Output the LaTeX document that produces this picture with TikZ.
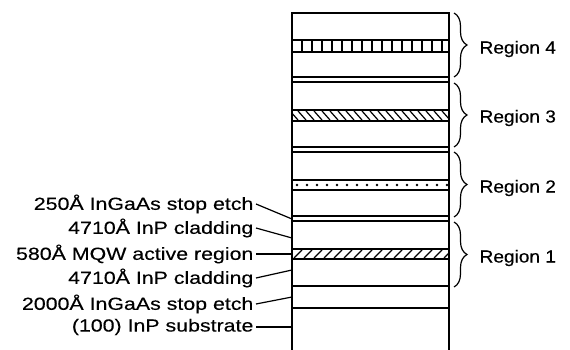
\documentclass[tikz,border=0pt]{standalone}
\usepackage{fontspec}
\setmainfont{Liberation Sans}
\newfontfamily\layerfont{Liberation Sans}[FakeStretch=1.22, FakeBold=0.3]
\newfontfamily\regionfont{Liberation Sans}[FakeStretch=1.09, FakeBold=0.3]
\usetikzlibrary{decorations.pathreplacing}

\begin{document}
\begin{tikzpicture}[x=1pt,y=-1pt, line width=1.2pt,
  band/.style={line width=1.8pt},
  layerlbl/.style={anchor=east, inner sep=2pt, font=\fontsize{17.5}{21}\layerfont},
  regionlbl/.style={anchor=west, inner sep=0pt, font=\fontsize{17.5}{21}\regionfont},
  regbrace/.style={decorate, decoration={brace, amplitude=13pt}, line width=1.2pt}]
 \useasboundingbox (0,0) rectangle (570,350);
 % points on the left wall where the leaders end
 \coordinate (E1) at (292,219);
 \coordinate (E2) at (292,238);
 \coordinate (E3) at (292,254);
 \coordinate (E4) at (292,270);
 \coordinate (E5) at (292,297);
 \coordinate (E6) at (292,327);
 % patterned bands
 \begin{scope}
   \clip (292,40) rectangle (449,52);
   \foreach \x in {292,302,...,452}
     \draw[band] (\x,40)--(\x,52);
 \end{scope}
 \begin{scope}
   \clip (292,110) rectangle (449,121);
   \foreach \x in {282,290,...,452}
     \draw[line width=1.2pt] (\x,111)--(\x+8,120);
 \end{scope}
 \foreach \x in {297,307,...,447}
   \fill (\x,185) circle[radius=1.4pt];
 \begin{scope}
   \clip (292,249) rectangle (449,259);
   \foreach \x in {284,294,...,454}
     \draw[line width=1.4pt] (\x,258)--(\x+8,250);
 \end{scope}
 \foreach \ya/\yb in {40/52,110/121,180/190,249/259}
   \draw[band] (292,\ya) rectangle (449,\yb);
 % layer boundaries
 \draw (292,350)--(292,13)--(449,13)--(449,350);
 \foreach \y in {77,82,147,152,216,221,286,308}
   \draw (292,\y)--(449,\y);
 % braces
 \draw[regbrace] (454,13)--(454,77);
 \draw[regbrace] (454,83)--(454,147);
 \draw[regbrace] (454,152)--(454,217);
 \draw[regbrace] (454,222)--(454,287);
 \node[regionlbl] (reg4) at (479,49) {Region 4};
 \node[regionlbl] (reg3) at (479,118) {Region 3};
 \node[regionlbl] (reg2) at (479,188) {Region 2};
 \node[regionlbl] (reg1) at (479,258) {Region 1};
 % layer labels
 \node[layerlbl] (L1) at (256,204) {250Å InGaAs stop etch};
 \node[layerlbl] (L2) at (256,228) {4710Å InP cladding};
 \node[layerlbl] (L3) at (256,254) {580Å MQW active region};
 \node[layerlbl] (L4) at (256,278) {4710Å InP cladding};
 \node[layerlbl] (L5) at (256,304) {2000Å InGaAs stop etch};
 \node[layerlbl] (L6) at (256,327) {(100) InP substrate};
 \foreach \i in {1,...,6}
   \draw (L\i.east)--(E\i);
\end{tikzpicture}
\end{document}
